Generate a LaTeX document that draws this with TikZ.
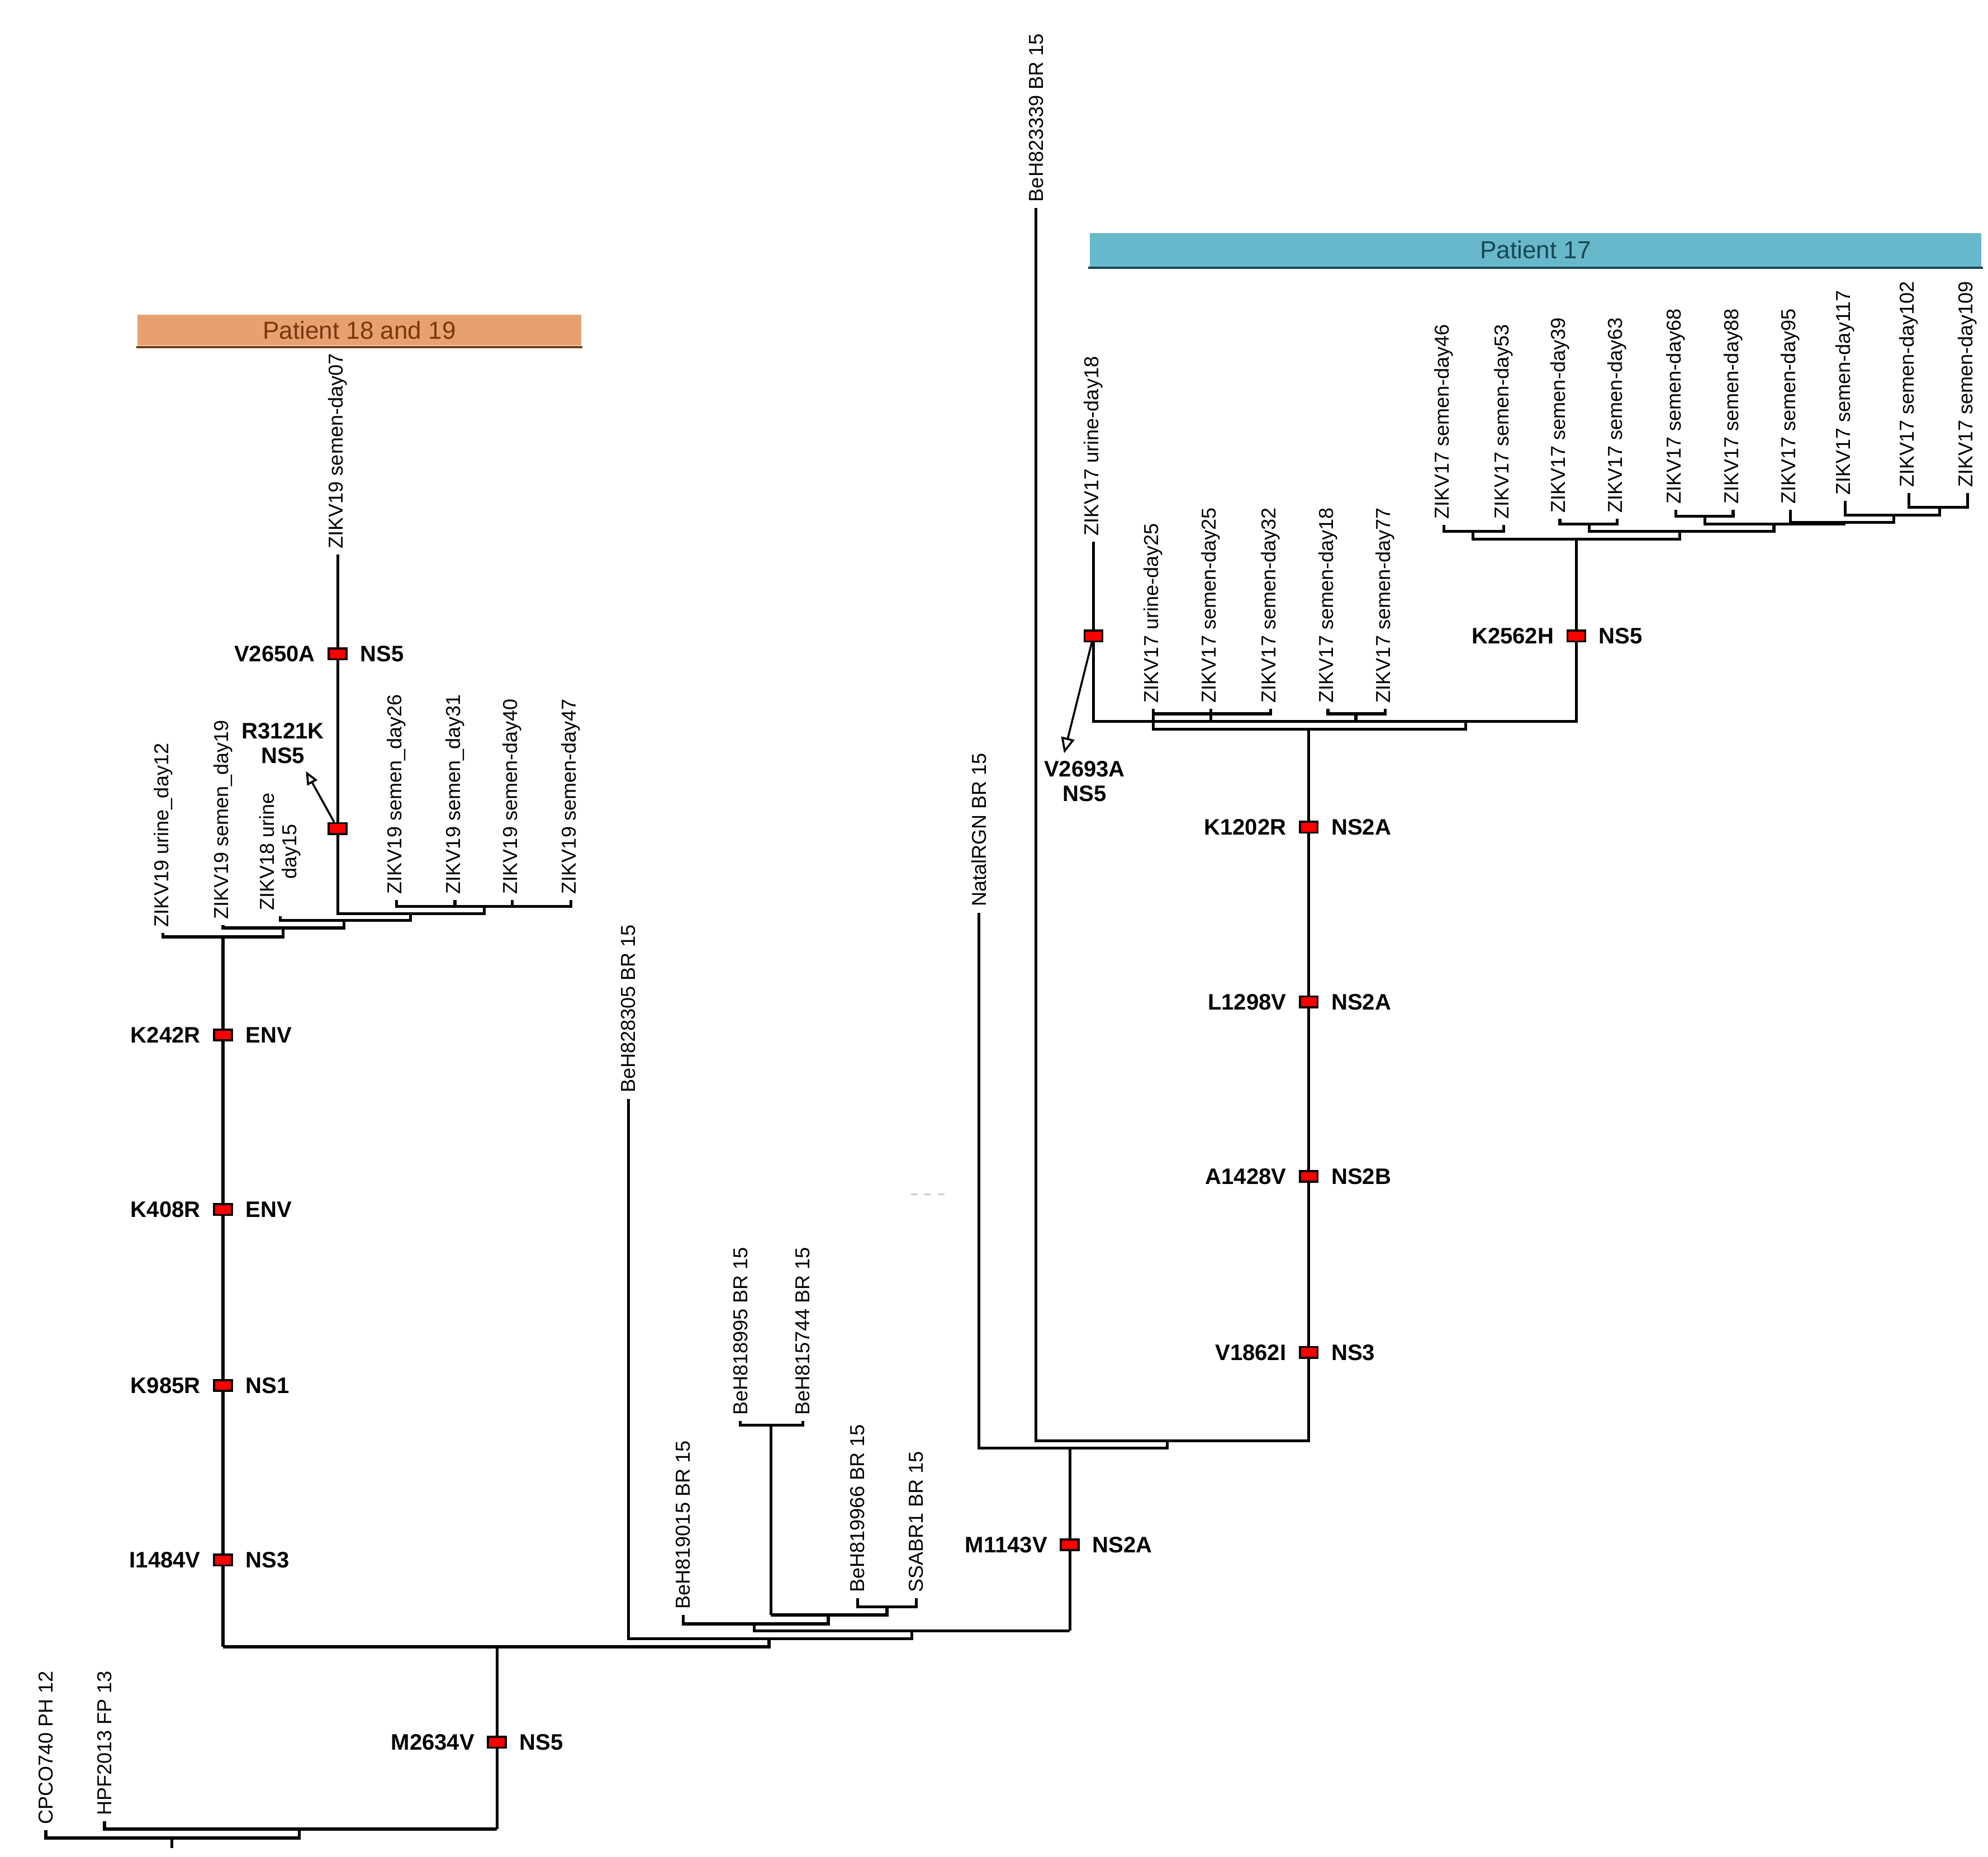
\documentclass[tikz,border=0pt]{standalone}
\usepackage{fontspec}
\setmainfont{Liberation Sans}
\usetikzlibrary{positioning,arrows.meta}
\definecolor{barOrange}{RGB}{232,160,112}
\definecolor{barOrangeText}{RGB}{120,55,15}
\definecolor{barBlue}{RGB}{104,184,204}
\definecolor{barBlueText}{RGB}{25,70,85}
\begin{document}
\begin{tikzpicture}[x=0.02cm, y=-0.02cm, line width=1.3pt,
        leaf/.style={rotate=90, anchor=west, inner sep=2pt, font=\fontsize{9}{10}\selectfont},
        mut/.style={rectangle, draw=black, fill=red, line width=0.9pt, minimum width=0.28cm, minimum height=0.17cm, inner sep=0pt},
        mlab/.style={font=\bfseries\fontsize{10}{11}\selectfont, inner sep=1pt},
        bar/.style={rectangle, inner sep=0pt, font=\fontsize{11}{12}\selectfont}
    ]
    \useasboundingbox (0,0) rectangle (1560,1456.5);
    % patient bars
    \node[bar, fill=barOrange, text=barOrangeText, minimum width=6.96cm, minimum height=0.48cm] (p1819) at (282,259) {Patient 18 and 19};
    \draw[barOrangeText, line width=1pt] (p1819.south west) -- (p1819.south east);
    \node[bar, fill=barBlue, text=barBlueText, minimum width=14cm, minimum height=0.52cm] (p17) at (1205,196) {Patient 17};
    \draw[barBlueText, line width=1pt] (p17.south west) -- (p17.south east);

    % leaves, patient 18 and 19
    \node[leaf] (u12) at (128,732) {ZIKV19 urine\_day12};
    \node[leaf] (s19) at (175,726) {ZIKV19 semen\_day19};
    \node[leaf, align=center] (u15) at (220,719) {ZIKV18 urine\\day15};
    \node[leaf] (s07) at (265,435) {ZIKV19 semen-day07};
    \node[leaf] (s26) at (311,706) {ZIKV19 semen\_day26};
    \node[leaf] (s31) at (357,706) {ZIKV19 semen\_day31};
    \node[leaf] (s40) at (402,706) {ZIKV19 semen-day40};
    \node[leaf] (s47) at (448,706) {ZIKV19 semen-day47};

    % leaves, middle
    \node[leaf] (cpco) at (36,1436) {CPCO740 PH 12};
    \node[leaf] (hpf) at (82,1429) {HPF2013 FP 13};
    \node[leaf] (b828) at (493,862) {BeH828305 BR 15};
    \node[leaf] (b019) at (536,1267) {BeH819015 BR 15};
    \node[leaf] (b995) at (581,1115) {BeH818995 BR 15};
    \node[leaf] (b744) at (630,1115) {BeH815744 BR 15};
    \node[leaf] (b966) at (673,1254) {BeH819966 BR 15};
    \node[leaf] (ssa) at (719,1254) {SSABR1 BR 15};
    \node[leaf] (natal) at (768,716) {NatalRGN BR 15};
    \node[leaf] (b339) at (813,163) {BeH823339 BR 15};

    % leaves, patient 17
    \node[leaf] (u18) at (858,425) {ZIKV17 urine-day18};
    \node[leaf] (u25) at (905,556) {ZIKV17 urine-day25};
    \node[leaf] (d25) at (950,556) {ZIKV17 semen-day25};
    \node[leaf] (d32) at (997,556) {ZIKV17 semen-day32};
    \node[leaf] (d18) at (1042,556) {ZIKV17 semen-day18};
    \node[leaf] (d77) at (1087,556) {ZIKV17 semen-day77};
    \node[leaf] (d46) at (1133,412) {ZIKV17 semen-day46};
    \node[leaf] (d53) at (1180,412) {ZIKV17 semen-day53};
    \node[leaf] (d39) at (1224,407) {ZIKV17 semen-day39};
    \node[leaf] (d63) at (1269,407) {ZIKV17 semen-day63};
    \node[leaf] (d68) at (1315,400) {ZIKV17 semen-day68};
    \node[leaf] (d88) at (1360,400) {ZIKV17 semen-day88};
    \node[leaf] (d95) at (1405,400) {ZIKV17 semen-day95};
    \node[leaf] (d117) at (1448,393) {ZIKV17 semen-day117};
    \node[leaf] (d102) at (1498,387) {ZIKV17 semen-day102};
    \node[leaf] (d109) at (1544,387) {ZIKV17 semen-day109};

    % branches, patient 18 and 19
    \draw (s26.west) |- (448,711) -- (s47.west);
    \draw (s31.west) -- (357,711);
    \draw (s40.west) -- (402,711);
    \draw (380,711) |- (265,717) -- (s07.west);
    \draw (322,717) |- (220,722) -- (u15.west);
    \draw (270,722) |- (175,728) -- (s19.west);
    \draw (222,728) |- (128,735) -- (u12.west);
    \draw (175,735) -- (175,1292);

    % branches, middle
    \draw (b995.west) |- (630,1118) -- (b744.west);
    \draw (605,1118) -- (605,1267);
    \draw (b966.west) |- (719,1260.6) -- (ssa.west);
    \draw (696,1260.6) |- (605,1267) -- (650,1267);
    \draw (650,1267) |- (536,1274) -- (b019.west);
    \draw (591.7,1274) |- (839.5,1279.5);
    \draw (715.5,1279.5) |- (493,1285.7) -- (b828.west);
    \draw (603.5,1285.7) |- (175,1292) -- (390,1292) -- (390,1435);
    \draw (hpf.west) |- (390,1435);
    \draw (235,1435) |- (cpco.west |- 0,1442) -- (cpco.west);
    \draw (135,1442) -- (135,1450);

    % branches, right
    \draw (839.5,1279.5) -- (839.5,1136);
    \draw (natal.west) |- (916,1136) -- (916,1130.5);
    \draw (b339.west) |- (1027,1130.5) -- (1027,572);
    \draw (u25.west) |- (997,560) -- (d32.west);
    \draw (d25.west) -- (950,566);
    \draw (d18.west) |- (1087,560) -- (d77.west);
    \draw (1064,560) -- (1064,566);
    \draw (u18.west) |- (1237,566) -- (1237,423);
    \draw (905,560) |- (1150,572) -- (1150,566);
    % upper patient 17 cluster
    \draw (d46.west) |- (1180,417) -- (d53.west);
    \draw (d39.west) |- (1269,411) -- (d63.west);
    \draw (d68.west) |- (1360,405) -- (d88.west);
    \draw (d102.west) |- (1544,398) -- (d109.west);
    \draw (d117.west) |- (1522,404) -- (1522,398);
    \draw (d95.west) |- (1486,410) -- (1486,404);
    \draw (1338,405) |- (1447,411) -- (1447,410);
    \draw (1247,411) |- (1392,417) -- (1392,411);
    \draw (1156,417) |- (1318,423) -- (1318,417);

    % mutations
    \node[mut] (m2650) at (265,513) {};
    \node[mlab, left=4pt of m2650] {V2650A};
    \node[mlab, right=4pt of m2650] {NS5};
    \node[mut] (m3121) at (265,650) {};
    \node[mlab, align=center] (l3121) at (222,583) {R3121K\\NS5};
    \draw[line width=0.9pt, -{Triangle[open, length=6pt, width=5pt]}] (m3121) -- (240,605);
    \foreach \y/\a/\g in {812/K242R/ENV, 949/K408R/ENV, 1087/K985R/NS1, 1224/I1484V/NS3} {
        \node[mut] (m\a) at (175,\y) {};
        \node[mlab, left=4pt of m\a] {\a};
        \node[mlab, right=4pt of m\a] {\g};
    }
    \node[mut] (m2634) at (390,1367) {};
    \node[mlab, left=4pt of m2634] {M2634V};
    \node[mlab, right=4pt of m2634] {NS5};
    \node[mut] (m1143) at (839.5,1212) {};
    \node[mlab, left=4pt of m1143] {M1143V};
    \node[mlab, right=4pt of m1143] {NS2A};
    \foreach \y/\a/\g in {649/K1202R/NS2A, 786/L1298V/NS2A, 923/A1428V/NS2B, 1061/V1862I/NS3} {
        \node[mut] (m\a) at (1027,\y) {};
        \node[mlab, left=4pt of m\a] {\a};
        \node[mlab, right=4pt of m\a] {\g};
    }
    \node[mut] (m2562) at (1237,499) {};
    \node[mlab, left=4pt of m2562] {K2562H};
    \node[mlab, right=4pt of m2562] {NS5};
    \node[mut] (m2693) at (858,499) {};
    \node[mlab, align=center] (l2693) at (851,613) {V2693A\\NS5};
    \draw[line width=0.9pt, -{Triangle[open, length=7pt, width=6pt]}] (m2693) -- (835,591);

    \draw[gray!40, line width=0.6pt, dashed] (715,937) -- (745,937);
\end{tikzpicture}
\end{document}
